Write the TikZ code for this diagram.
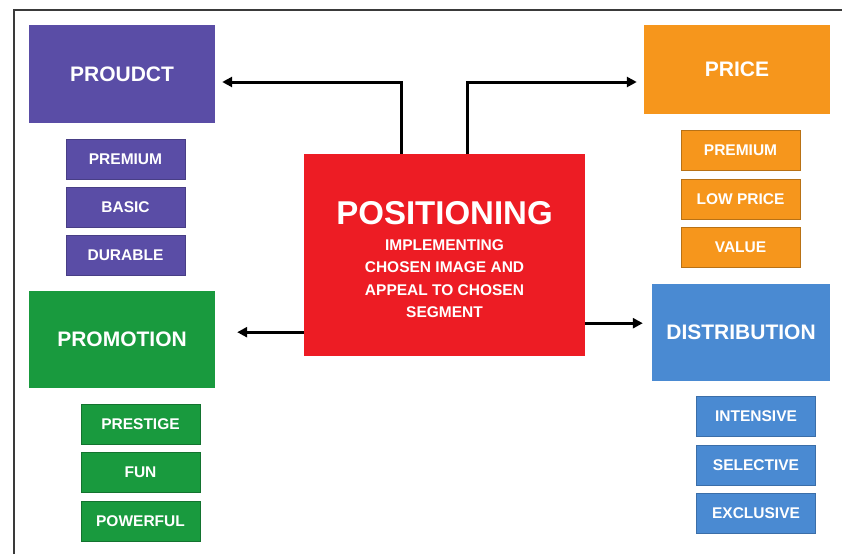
\documentclass[tikz,border=0pt]{standalone}
\usepackage{fontspec}
\setmainfont{Liberation Sans}
\usetikzlibrary{arrows.meta, calc}
\definecolor{prodpurple}{HTML}{5A4DA6}
\definecolor{priceorange}{HTML}{F6961C}
\definecolor{posred}{HTML}{ED1C24}
\definecolor{promogreen}{HTML}{199A3E}
\definecolor{distblue}{HTML}{4A8AD2}
\definecolor{framegray}{HTML}{3A3A3A}

\tikzset{
  mainbox/.style={rectangle, text=white, font=\fontsize{21}{24}\selectfont\bfseries,
    inner sep=0pt, minimum width=186pt, minimum height=97pt},
  subbox/.style={rectangle, text=white, font=\fontsize{15.5}{18}\selectfont\bfseries,
    inner sep=0pt, minimum width=119pt, minimum height=40pt, line width=0.8pt},
  arr/.style={line width=3pt, -{Triangle[length=10pt, width=10pt]}}
}

\begin{document}
\begin{tikzpicture}[x=1pt, y=-1pt]

% Canvas and frame
\useasboundingbox (0,0) rectangle (842,554);
\fill[white] (0,0) rectangle (842,554);
\draw[framegray, line width=2pt] (14,554) -- (14,10) -- (842,10);

% Central box
\node[rectangle, fill=posred, text=white, inner sep=0pt,
      minimum width=281pt, minimum height=202pt, align=center,
      font=\fontsize{15.5}{22.5}\selectfont\bfseries]
  (posit) at (444.5,255)
  {\rule{0pt}{32pt}{\fontsize{33}{33}\selectfont POSITIONING}\\[3.5pt]
   IMPLEMENTING\\CHOSEN IMAGE AND\\APPEAL TO CHOSEN\\SEGMENT};

% Product
\node[mainbox, fill=prodpurple, minimum height=98pt] (product) at (122,74) {PROUDCT};
\node[subbox, fill=prodpurple, draw=prodpurple!80!black] (prodA) at (125.5,159) {PREMIUM};
\node[subbox, fill=prodpurple, draw=prodpurple!80!black] (prodB) at (125.5,207) {BASIC};
\node[subbox, fill=prodpurple, draw=prodpurple!80!black] (prodC) at (125.5,255) {DURABLE};

% Price
\node[mainbox, fill=priceorange, minimum height=89pt] (price) at (737,69.5) {PRICE};
\node[subbox, fill=priceorange, draw=priceorange!75!black] (priceA) at (740.5,150.5) {PREMIUM};
\node[subbox, fill=priceorange, draw=priceorange!75!black] (priceB) at (740.5,199) {LOW PRICE};
\node[subbox, fill=priceorange, draw=priceorange!75!black] (priceC) at (740.5,247.5) {VALUE};

% Promotion
\node[mainbox, fill=promogreen] (promo) at (122,339.5) {PROMOTION};
\node[subbox, fill=promogreen, draw=promogreen!75!black] (promoA) at (140.5,424.5) {PRESTIGE};
\node[subbox, fill=promogreen, draw=promogreen!75!black] (promoB) at (140.5,472.5) {FUN};
\node[subbox, fill=promogreen, draw=promogreen!75!black] (promoC) at (140.5,521.5) {POWERFUL};

% Distribution
\node[mainbox, fill=distblue, minimum width=178pt] (distrib) at (741,332.5) {DISTRIBUTION};
\node[subbox, fill=distblue, draw=distblue!80!black] (distA) at (756,416.5) {INTENSIVE};
\node[subbox, fill=distblue, draw=distblue!80!black] (distB) at (756,465) {SELECTIVE};
\node[subbox, fill=distblue, draw=distblue!80!black] (distC) at (756,513.5) {EXCLUSIVE};

% --- Arrows out of the central box ---
\coordinate (ptl) at ([xshift=-43.5pt]posit.north);
\coordinate (ptr) at ([xshift=22.5pt]posit.north);
\coordinate (pl) at ([yshift=24pt]posit.south west);
\coordinate (pr) at ([yshift=33pt]posit.south east);

\draw[arr, shorten >=7pt] (ptl) |- ([yshift=-8pt]product.east);
\draw[arr, shorten >=7pt] (ptr) |- ([yshift=-12.5pt]price.west);
\draw[arr, shorten >=22pt] (pl) -- (pl -| promo.east);
\draw[arr, shorten >=9pt] (pr) -- (pr -| distrib.west);

\end{tikzpicture}
\end{document}
